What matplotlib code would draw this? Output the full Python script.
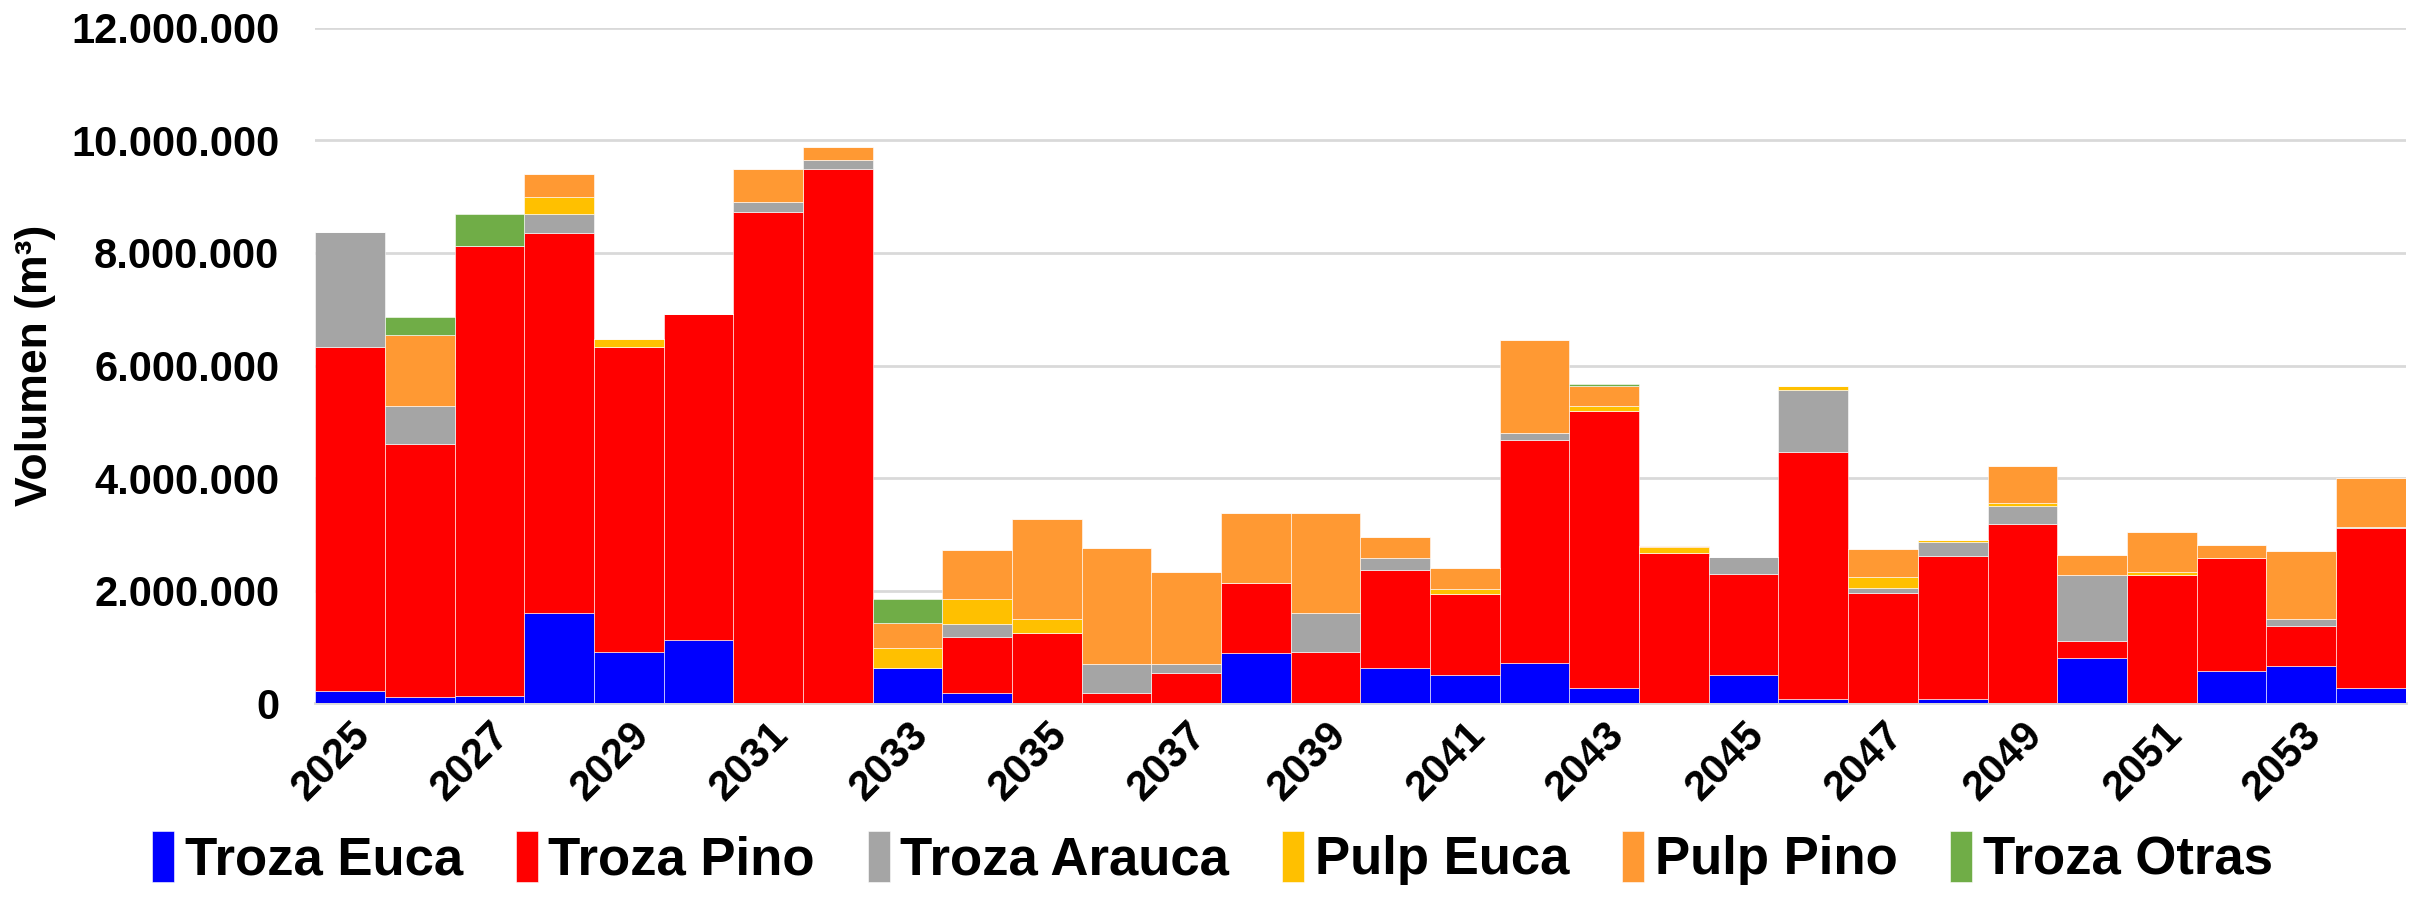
import matplotlib.pyplot as plt
import numpy as np
from matplotlib.ticker import FuncFormatter

plt.rcParams['font.family'] = ['Liberation Sans', 'DejaVu Sans']
plt.rcParams['font.weight'] = 'bold'

years = list(range(2025, 2055))

# volumes in million m3
troza_euca = [0.22, 0.11, 0.12, 1.61, 0.91, 1.13, 0, 0, 0.62, 0.19,
              0, 0, 0, 0.89, 0, 0.62, 0.50, 0.71, 0.27, 0,
              0.51, 0.07, 0, 0.08, 0, 0.81, 0, 0.58, 0.67, 0.27]
troza_pino = [6.11, 4.49, 8.00, 6.75, 5.42, 5.78, 8.73, 9.49, 0, 0.99,
              1.24, 0.19, 0.53, 1.25, 0.905, 1.75, 1.44, 3.97, 4.92, 2.67,
              1.79, 4.40, 1.95, 2.53, 3.18, 0.30, 2.28, 2.00, 0.70, 2.84]
troza_arauca = [2.05, 0.68, 0, 0.33, 0, 0, 0.18, 0.17, 0, 0.23,
                0, 0.50, 0.17, 0, 0.69, 0.21, 0, 0.13, 0, 0,
                0.29, 1.10, 0.10, 0.25, 0.32, 1.17, 0, 0, 0.13, 0.03]
pulp_euca = [0, 0, 0, 0.30, 0.15, 0, 0, 0, 0.36, 0.44,
             0.26, 0, 0, 0, 0.01, 0, 0.09, 0, 0.09, 0.10,
             0, 0.06, 0.20, 0.04, 0.06, 0, 0.05, 0, 0, 0]
pulp_pino = [0, 1.27, 0, 0.41, 0, 0, 0.58, 0.23, 0.44, 0.88,
             1.77, 2.06, 1.64, 1.24, 1.78, 0.37, 0.38, 1.64, 0.35, 0.02,
             0, 0, 0.49, 0, 0.66, 0.35, 0.71, 0.24, 1.21, 0.87]
troza_otras = [0, 0.31, 0.58, 0, 0, 0, 0, 0, 0.44, 0,
               0, 0, 0, 0, 0, 0, 0, 0, 0.04, 0,
               0, 0, 0, 0, 0, 0, 0, 0, 0, 0]

series = [("Troza Euca", troza_euca, "#0000FF"),
          ("Troza Pino", troza_pino, "#FF0000"),
          ("Troza Arauca", troza_arauca, "#A5A5A5"),
          ("Pulp Euca", pulp_euca, "#FFC000"),
          ("Pulp Pino", pulp_pino, "#FF9933"),
          ("Troza Otras", troza_otras, "#70AD47")]

fig = plt.figure(figsize=(24.25, 8.97), dpi=100)
ax = fig.add_axes([0.130, 0.216, 0.862, 0.753])

x = np.arange(len(years))
bottom = np.zeros(len(years))
for name, vals, col in series:
    v = np.array(vals) * 1e6
    ax.bar(x, v, width=1.0, bottom=bottom, color=col, label=name,
           edgecolor='white', linewidth=0.4, zorder=3)
    bottom += v

ax.set_xlim(-0.5, len(years) - 0.5)
ax.set_ylim(0, 12e6)
ax.set_yticks(np.arange(0, 12.1e6, 2e6))
ax.yaxis.set_major_formatter(FuncFormatter(lambda v, p: f"{int(v):,}".replace(",", ".")))
ax.grid(axis='y', color='#D9D9D9', linewidth=2, zorder=0)
ax.set_axisbelow(True)

ax.set_xticks(x[::2])
ax.set_xticklabels([str(y) for y in years[::2]], rotation=45, ha='right',
                   rotation_mode='anchor', fontsize=30, fontweight='bold')
ax.tick_params(axis='y', labelsize=30, length=0, pad=26)
ax.tick_params(axis='x', length=0, pad=8)
for s in ['top', 'right', 'left']:
    ax.spines[s].set_visible(False)
ax.spines['bottom'].set_color('#D9D9D9')
ax.spines['bottom'].set_linewidth(2)

ax.set_ylabel("Volumen (m³)", fontsize=32, fontweight='bold')
ax.yaxis.set_label_coords(-0.124, 0.5)

fig.legend(loc='lower center', bbox_to_anchor=(0.5, -0.04), ncol=6,
           frameon=False, fontsize=38, handlelength=0.42, handleheight=1.1,
           handletextpad=0.2, columnspacing=1.0)

fig.savefig("out.png", dpi=100)
